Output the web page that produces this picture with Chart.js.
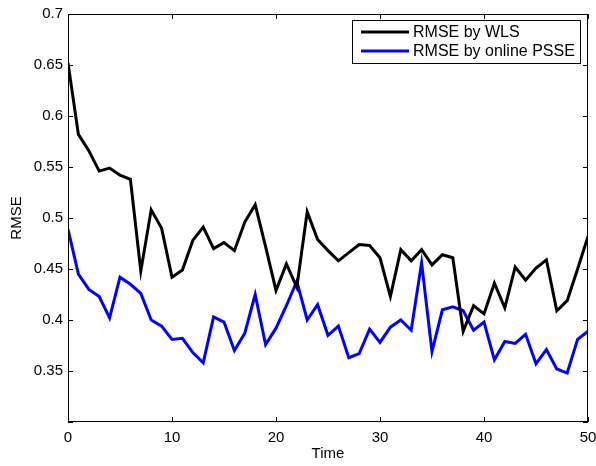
<!DOCTYPE html>
<html>
<head>
<meta charset="utf-8">
<script src="https://cdn.jsdelivr.net/npm/chart.js@4/dist/chart.umd.min.js"></script>
<style>
  html, body { margin: 0; padding: 0; background: #fff; }
  #wrap { width: 596px; height: 466px; }
</style>
</head>
<body>
<div id="wrap"><canvas id="rmseChart" width="596" height="466"></canvas></div>
<script>
// time steps (x axis)
const timeSteps = [0, 1, 2, 3, 4, 5, 6, 7, 8, 9, 10, 11, 12, 13, 14, 15, 16, 17, 18, 19, 20,
  21, 22, 23, 24, 25, 26, 27, 28, 29, 30, 31, 32, 33, 34, 35, 36, 37, 38, 39, 40,
  41, 42, 43, 44, 45, 46, 47, 48, 49, 50];

// RMSE by WLS (black)
const rmseWls = [0.652, 0.582, 0.566, 0.546, 0.549, 0.542, 0.538, 0.448, 0.508, 0.490, 0.442,
  0.449, 0.478, 0.491, 0.470, 0.476, 0.468, 0.496, 0.513, 0.472, 0.429,
  0.455, 0.432, 0.506, 0.479, 0.468, 0.458, 0.466, 0.474, 0.473, 0.461,
  0.423, 0.469, 0.458, 0.469, 0.454, 0.464, 0.461, 0.389, 0.414, 0.406,
  0.436, 0.412, 0.452, 0.439, 0.451, 0.459, 0.409, 0.419, 0.450, 0.482];

// RMSE by online PSSE (blue)
const rmsePsse = [0.489, 0.445, 0.430, 0.423, 0.402, 0.442, 0.435, 0.426, 0.400, 0.394, 0.381,
  0.382, 0.368, 0.358, 0.403, 0.398, 0.370, 0.387, 0.425, 0.376, 0.392,
  0.414, 0.438, 0.400, 0.415, 0.385, 0.394, 0.363, 0.367, 0.391, 0.378,
  0.393, 0.400, 0.390, 0.456, 0.369, 0.410, 0.413, 0.409, 0.390, 0.398,
  0.361, 0.379, 0.377, 0.386, 0.357, 0.371, 0.352, 0.348, 0.381, 0.389];

const xTicks = [0, 10, 20, 30, 40, 50];
const yTicks = [0.3, 0.35, 0.4, 0.45, 0.5, 0.55, 0.6, 0.65, 0.7];

const FONT = "'Liberation Sans', Arial, sans-serif";

const toPoints = arr => arr.map((v, i) => ({ x: timeSteps[i], y: v }));

// box around plot + inward ticks on all four sides (matlab style)
const boxPlugin = {
  id: 'box',
  afterDatasetsDraw(chart) {
    const { ctx, chartArea: a, scales } = chart;
    ctx.save();
    ctx.strokeStyle = '#000';
    ctx.lineWidth = 1;
    ctx.strokeRect(a.left + 0.5, a.top + 0.5, a.right - a.left - 1, a.bottom - a.top - 1);
    const len = 5;
    ctx.beginPath();
    xTicks.forEach(t => {
      const x = Math.round(scales.x.getPixelForValue(t)) + 0.5;
      ctx.moveTo(x, a.bottom); ctx.lineTo(x, a.bottom - len);
      ctx.moveTo(x, a.top); ctx.lineTo(x, a.top + len);
    });
    yTicks.forEach(t => {
      const y = Math.round(scales.y.getPixelForValue(t)) + 0.5;
      ctx.moveTo(a.left, y); ctx.lineTo(a.left + len, y);
      ctx.moveTo(a.right, y); ctx.lineTo(a.right - len, y);
    });
    ctx.stroke();
    ctx.restore();
  }
};

// legend box in the top right corner
const legendPlugin = {
  id: 'boxLegend',
  afterDraw(chart) {
    const { ctx } = chart;
    const bx = 352, by = 20, bw = 228, bh = 43;
    ctx.save();
    ctx.fillStyle = '#fff';
    ctx.fillRect(bx, by, bw, bh);
    ctx.strokeStyle = '#000';
    ctx.lineWidth = 1;
    ctx.strokeRect(bx + 0.5, by + 0.5, bw, bh);
    ctx.font = '16px ' + FONT;
    ctx.textBaseline = 'middle';
    chart.data.datasets.forEach((ds, i) => {
      const y = by + 12 + i * 19;
      ctx.strokeStyle = ds.borderColor;
      ctx.lineWidth = 3;
      ctx.beginPath();
      ctx.moveTo(361, y); ctx.lineTo(409, y);
      ctx.stroke();
      ctx.fillStyle = '#000';
      ctx.fillText(ds.label, 413, y + 1);
    });
    ctx.restore();
  }
};

new Chart(document.getElementById('rmseChart'), {
  type: 'line',
  data: {
    datasets: [
      { label: 'RMSE by WLS', data: toPoints(rmseWls), borderColor: '#000000', borderWidth: 3, pointRadius: 0, tension: 0, fill: false },
      { label: 'RMSE by online PSSE', data: toPoints(rmsePsse), borderColor: '#0000ff', borderWidth: 3, pointRadius: 0, tension: 0, fill: false }
    ]
  },
  options: {
    responsive: false,
    animation: false,
    layout: { padding: { left: 0, top: 13, right: 8, bottom: 0 } },
    plugins: { legend: { display: false }, tooltip: { enabled: false } },
    scales: {
      x: {
        type: 'linear', min: 0, max: 50,
        grid: { display: false, drawTicks: false },
        border: { display: false },
        ticks: { stepSize: 10, padding: 7, color: '#000', font: { family: FONT, size: 15 }, maxRotation: 0 },
        title: { display: true, text: 'Time', color: '#000', font: { family: FONT, size: 15 }, padding: { top: 0, bottom: 3 } },
        afterFit(s) { s.height = 44; s.paddingLeft = 0; s.paddingRight = 0; }
      },
      y: {
        min: 0.3, max: 0.7,
        grid: { display: false, drawTicks: false },
        border: { display: false },
        ticks: {
          stepSize: 0.05, padding: 5, color: '#000', font: { family: FONT, size: 15 },
          callback: v => (v < 0.31 ? '' : String(Math.round(v * 100) / 100))
        },
        title: { display: true, text: 'RMSE', color: '#000', font: { family: FONT, size: 15 }, padding: { top: 8, bottom: 0 } },
        afterFit(s) { s.width = 68; }
      }
    }
  },
  plugins: [boxPlugin, legendPlugin]
});
</script>
</body>
</html>
